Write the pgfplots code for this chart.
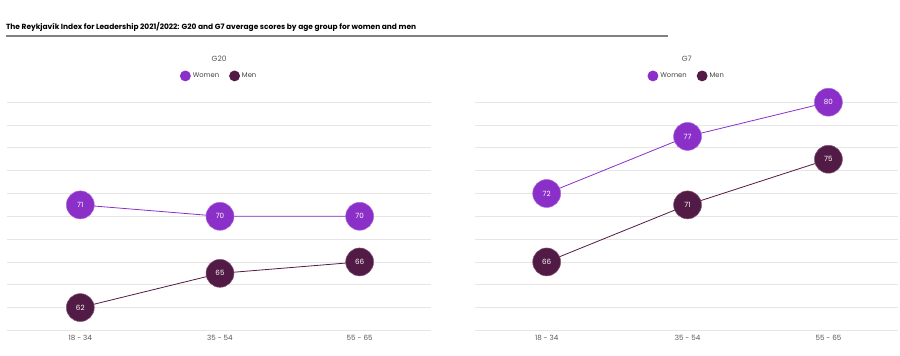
\documentclass[border=0pt]{standalone}
\usepackage{pgfplots}
\pgfplotsset{compat=1.18}
\usepackage{fontspec}
\setmainfont{Poppins}
\definecolor{women}{HTML}{8B2FC9}
\definecolor{men}{HTML}{521B46}
\definecolor{gridc}{HTML}{E6E6E6}
\definecolor{tickc}{HTML}{555555}
\begin{document}
\begin{tikzpicture}
\path (0bp,0bp) rectangle (900bp,356bp);
\node[anchor=base west, inner sep=0pt, font=\fontsize{7.5}{9}\selectfont\bfseries] at (5bp,326.5bp) {The Reykjavík Index for Leadership 2021/2022: G20 and G7 average scores by age group for women and men};
\draw[gray, line width=1.2bp] (5bp,320bp) -- (668bp,320bp);
\pgfplotsset{panel/.style={
  scale only axis, height=228.4bp, anchor=south west,
  ymin=60, ymax=80, ytick={60,62,...,80}, yticklabels={},
  ymajorgrids, major grid style={gridc, line width=0.7bp},
  xtick={0,1,2}, xticklabels={18 - 34,35 - 54,55 - 65},
  axis line style={draw=none}, tick style={draw=none},
  x tick label style={font=\fontsize{7.2}{8}\selectfont, text=tickc, yshift=-1bp},
  title style={at={(0.5,1)}, anchor=center, yshift=37.3bp, font=\fontsize{7.5}{9}\selectfont, text=tickc},
  legend style={at={(0.5,1)}, anchor=center, yshift=26.3bp, draw=none, fill=none,
    font=\fontsize{6.8}{7}\selectfont, text=black!75, legend columns=2,
    /tikz/every even column/.append style={column sep=8bp}},
  nodes near coords, nodes near coords align={center},
  /pgf/number format/assume math mode=true,
  every node near coord/.append style={anchor=center, text=white, font=\fontsize{7.2}{8}\selectfont},
  clip=false,
}}
\begin{axis}[panel, at={(6bp,25.3bp)}, width=425bp, xmin=-0.526, xmax=2.514, title={G20}]
\addplot[women, line width=0.8bp, mark=*, mark size=14bp, mark options={fill=women, draw=women!70!white, line width=0.5bp},
  legend image code/.code={\fill[women] (0.05cm,0) circle (5bp);}]
  coordinates {(0,71) (1,70) (2,70)};
\addlegendentry{Women}
\addplot[men, line width=0.8bp, mark=*, mark size=14bp, mark options={fill=men, draw=men!70!white, line width=0.5bp},
  legend image code/.code={\fill[men] (0.05cm,0) circle (5bp);}]
  coordinates {(0,62) (1,65) (2,66)};
\addlegendentry{Men}
\end{axis}
\begin{axis}[panel, at={(475bp,25.3bp)}, width=423bp, xmin=-0.506, xmax=2.494, title={G7}]
\addplot[women, line width=0.8bp, mark=*, mark size=14bp, mark options={fill=women, draw=women!70!white, line width=0.5bp},
  legend image code/.code={\fill[women] (0.05cm,0) circle (5bp);}]
  coordinates {(0,72) (1,77) (2,80)};
\addlegendentry{Women}
\addplot[men, line width=0.8bp, mark=*, mark size=14bp, mark options={fill=men, draw=men!70!white, line width=0.5bp},
  legend image code/.code={\fill[men] (0.05cm,0) circle (5bp);}]
  coordinates {(0,66) (1,71) (2,75)};
\addlegendentry{Men}
\end{axis}
\end{tikzpicture}
\end{document}
